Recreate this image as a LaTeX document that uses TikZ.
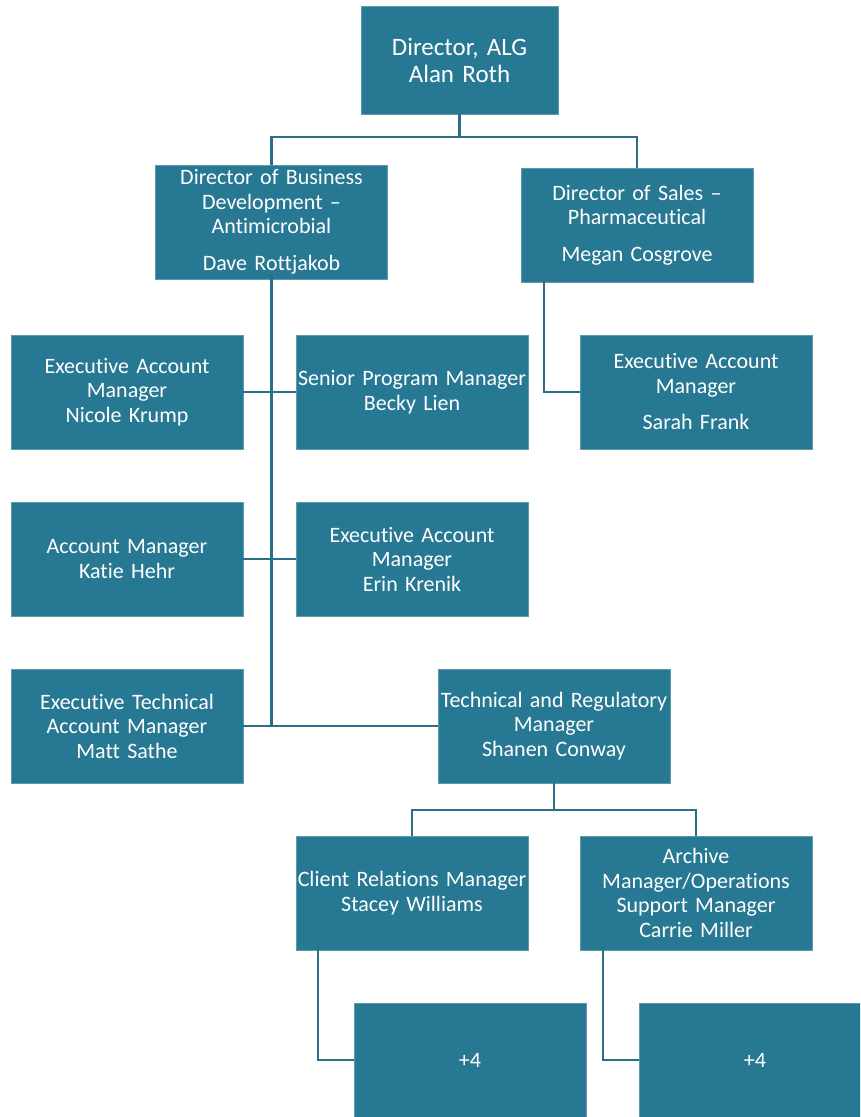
\documentclass[tikz,border=0pt]{standalone}
\usepackage{fontspec}
\setmainfont[Ligatures={NoCommon}]{Carlito}
\definecolor{boxteal}{HTML}{277893}
\definecolor{lineteal}{HTML}{2B6E87}

\begin{document}
\begin{tikzpicture}[x=1pt,y=-1pt,
  box/.style={fill=boxteal, draw=boxteal!75!white, line width=0.8pt, text=white,
    align=center, inner sep=0pt, minimum width=232pt, minimum height=114pt,
    text width=232pt, font=\fontsize{22}{24.5}\selectfont},
  link/.style={lineteal, line width=2.4pt}]
\useasboundingbox (0,0) rectangle (860,1117);
\clip (0,0) rectangle (860,1117);

%% head
\node[box, minimum width=197pt, text width=197pt, minimum height=108pt,
  font=\fontsize{25}{27}\selectfont] (director) at (459.5,60) {Director, ALG\\ Alan Roth};

%% second row
\node[box] (bizdev) at (271.5,222) {Director of Business\\ Development –\\ Antimicrobial\\[12pt] Dave Rottjakob};
\node[box] (sales) at (637,225) {Director of Sales –\\ Pharmaceutical\\[12pt] Megan Cosgrove};

%% staff
\node[box] (nicole) at (127,392) {Executive Account\\ Manager\\ Nicole Krump};
\node[box] (becky) at (412,392) {Senior Program Manager\\ Becky Lien};
\node[box] (sarah) at (696,392) {Executive Account\\ Manager\\[12pt] Sarah Frank};
\node[box] (katie) at (127,559) {Account Manager\\ Katie Hehr};
\node[box] (erin) at (412,559) {Executive Account\\ Manager\\ Erin Krenik};
\node[box] (matt) at (127,726) {Executive Technical\\ Account Manager\\ Matt Sathe};
\node[box] (shanen) at (554,726) {Technical and Regulatory\\ Manager\\ Shanen Conway};
\node[box] (stacey) at (412,893) {Client Relations Manager\\ Stacey Williams};
\node[box] (carrie) at (696,893) {Archive\\ Manager/Operations\\ Support Manager\\ Carrie Miller};
\node[box] (staceyteam) at (470,1060) {+4};
\node[box] (carrieteam) at (755,1060) {+4};

%% connectors
\coordinate (topfork) at (459.5,137);
\draw[link] (director.south) -- (topfork) -| (bizdev.north);
\draw[link] (topfork) -| (sales.north);

\draw[link] ([yshift=5pt]bizdev.south) -- (bizdev.south |- matt.east);
\draw[link] (nicole.east) -- (becky.west);
\draw[link] (katie.east) -- (erin.west);
\draw[link] (matt.east) -- (shanen.west);

\draw[link] ([xshift=-93pt,yshift=5pt]sales.south) |- (sarah.west);

\coordinate (techfork) at (554,810);
\draw[link] (shanen.south) -- (techfork) -| (stacey.north);
\draw[link] (techfork) -| (carrie.north);

\draw[link] ([xshift=-94pt,yshift=4pt]stacey.south) |- (staceyteam.west);
\draw[link] ([xshift=-93pt,yshift=4pt]carrie.south) |- (carrieteam.west);

\end{tikzpicture}
\end{document}
